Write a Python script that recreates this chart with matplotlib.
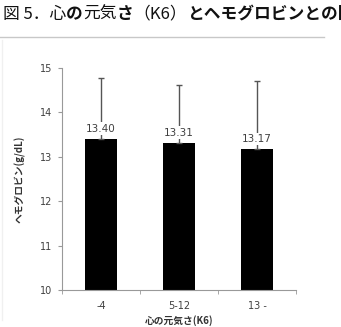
import matplotlib
matplotlib.use("Agg")
import matplotlib.pyplot as plt
from matplotlib.lines import Line2D

plt.rcParams['font.family'] = ['Noto Sans CJK JP', 'DejaVu Sans']

# data
groups = ["-4", "5-12", "13 -"]
means = [13.40, 13.31, 13.17]
sd_up = [1.38, 1.31, 1.53]
value_labels = ["13.40", "13.31", "13.17"]
y_ticks = [10, 11, 12, 13, 14, 15]

fig = plt.figure(figsize=(3.41, 3.27), dpi=100)
ax = fig.add_axes([62 / 341, 1 - 290 / 327, 234 / 341, 222 / 327])

# title, pieces with mixed weight, chained one after another
pieces = [("図 5．心", "normal"), ("の", "bold"), ("元気", "normal"), ("さ", "bold"),
          ("（K6）", "normal"), ("とヘモグロビンとの関係", "bold")]
prev = fig.text(3 / 341, 1 - 14 / 327, pieces[0][0], fontsize=12.05, fontweight=pieces[0][1],
                va="center", ha="left", color="#111111")
for txt, w in pieces[1:]:
    prev = ax.annotate(txt, xy=(1, 0.5), xycoords=prev, va="center", ha="left",
                       fontsize=12.05, fontweight=w, color="#111111",
                       annotation_clip=False)

# rule under title
fig.add_artist(Line2D([0, 324 / 341], [1 - 37 / 327, 1 - 37 / 327], transform=fig.transFigure,
                      color="#c8c8c8", lw=1))
fig.add_artist(Line2D([2 / 341, 2 / 341], [1 - 40 / 327, 1 - 320 / 327], transform=fig.transFigure,
                      color="#f0f0f0", lw=1))

x = list(range(len(groups)))
ax.bar(x, means, width=0.4, color="black", zorder=2)
ax.errorbar(x, means, yerr=[[0] * 3, sd_up], fmt="none", ecolor="#555555",
            elinewidth=1, capsize=2, capthick=1, zorder=3)
for xi, m, lab in zip(x, means, value_labels):
    ax.text(xi, m + 0.12, lab, ha="center", va="bottom", fontsize=7.5, color="#404040",
            family=["DejaVu Sans"], zorder=4,
            bbox=dict(facecolor="white", edgecolor="none", pad=1))

ax.set_xlim(-0.5, 2.5)
ax.set_ylim(10, 15)
ax.set_yticks(y_ticks)
ax.set_yticklabels([str(t) for t in y_ticks], fontsize=7, color="#404040", family=["DejaVu Sans"])
ax.set_xticks(x)
ax.set_xticklabels(groups, fontsize=7, color="#404040", family=["DejaVu Sans"])
ax.set_xticks([-0.5, 0.5, 1.5, 2.5], minor=True)
ax.tick_params(axis="x", which="major", length=0, pad=8)
ax.tick_params(axis="x", which="minor", length=3, color="#999999")
ax.tick_params(axis="y", length=3, color="#999999", pad=4)

for s in ["top", "right"]:
    ax.spines[s].set_visible(False)
for s in ["left", "bottom"]:
    ax.spines[s].set_color("#999999")
    ax.spines[s].set_linewidth(0.8)

ax.set_ylabel("ヘモグロビン(g/dL)", fontsize=7, fontweight="bold", color="#333333", labelpad=10)
ax.set_xlabel("心の元気さ(K6)", fontsize=7, fontweight="bold", color="#333333", labelpad=3)

fig.savefig("out.png", dpi=100)
